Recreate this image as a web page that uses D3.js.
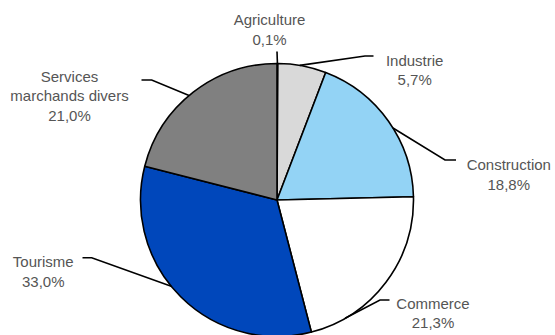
<!DOCTYPE html>
<html>
<head>
<meta charset="utf-8">
<script src="https://cdn.jsdelivr.net/npm/d3@7"></script>
<style>
  html, body { margin: 0; padding: 0; background: #fff; }
  svg { display: block; }
  text { font-family: "Liberation Sans", Arial, sans-serif; font-size: 15px; fill: #555555; }
</style>
</head>
<body>
<svg id="chart" width="555" height="335"></svg>
<script>
// Breakdown by sector (share in %)
const sectors = ["Agriculture", "Industrie", "Construction", "Commerce", "Tourisme", "Services marchands divers"];
const shares = [0.1, 5.7, 18.8, 21.3, 33.0, 21.0];
const shareLabels = ["0,1%", "5,7%", "18,8%", "21,3%", "33,0%", "21,0%"];
const labelLines = [["Agriculture"], ["Industrie"], ["Construction"], ["Commerce"], ["Tourisme"], ["Services", "marchands divers"]];

// Slice fills
const fills = ["#d9d9d9", "#d9d9d9", "#93d3f5", "#ffffff", "#0047bb", "#808080"];

// Label layout: where the leader leaves the slice (fraction across the slice),
// elbow point, end of the leader and text anchor
const layout = [
  { t: 0.5, elbow: null, end: [277, 51.5], text: [269.5, 25] },
  { t: 0.45, elbow: [365, 56], end: [373.5, 56], text: [414.7, 65.7] },
  { t: 0.55, elbow: [445, 160], end: [456, 160], text: [508.8, 170] },
  { t: 0.8, elbow: [380, 300], end: [389.5, 300], text: [433, 308.5] },
  { t: 0.55, elbow: [91.7, 257.7], end: [82.5, 257.7], text: [43.3, 267.3] },
  { t: 0.47, elbow: [151.7, 80], end: [141.5, 80], text: [69.5, 81.5] }
];

const cx = 277, cy = 200, radius = 136.5, lineGap = 19.5;

const svg = d3.select("#chart");
const data = sectors.map((name, i) => ({ name, value: shares[i], i }));

const pie = d3.pie().sort(null).value(d => d.value);
const arcs = pie(data);
const arc = d3.arc().innerRadius(0).outerRadius(radius);

const g = svg.append("g").attr("transform", `translate(${cx},${cy})`);

g.selectAll("path.slice")
  .data(arcs)
  .join("path")
  .attr("class", "slice")
  .attr("d", arc)
  .attr("fill", d => fills[d.data.i])
  .attr("stroke", "#000")
  .attr("stroke-width", 1.6)
  .attr("stroke-linejoin", "round");

// Leader lines
const line = d3.line();
arcs.forEach((a, k) => {
  const L = layout[k];
  const ang = a.startAngle + (a.endAngle - a.startAngle) * L.t;
  const start = [cx + radius * Math.sin(ang), cy - radius * Math.cos(ang)];
  const pts = L.elbow ? [start, L.elbow, L.end] : [start, L.end];
  svg.append("path")
    .attr("d", line(pts))
    .attr("fill", "none")
    .attr("stroke", "#000")
    .attr("stroke-width", 1.6);
});

// Category labels with their share underneath
arcs.forEach((a, k) => {
  const L = layout[k];
  const rows = labelLines[k].concat([shareLabels[k]]);
  const t = svg.append("text")
    .attr("text-anchor", "middle")
    .attr("x", L.text[0])
    .attr("y", L.text[1]);
  rows.forEach((r, j) => {
    t.append("tspan")
      .attr("x", L.text[0])
      .attr("y", L.text[1] + j * lineGap)
      .text(r);
  });
});
</script>
</body>
</html>
